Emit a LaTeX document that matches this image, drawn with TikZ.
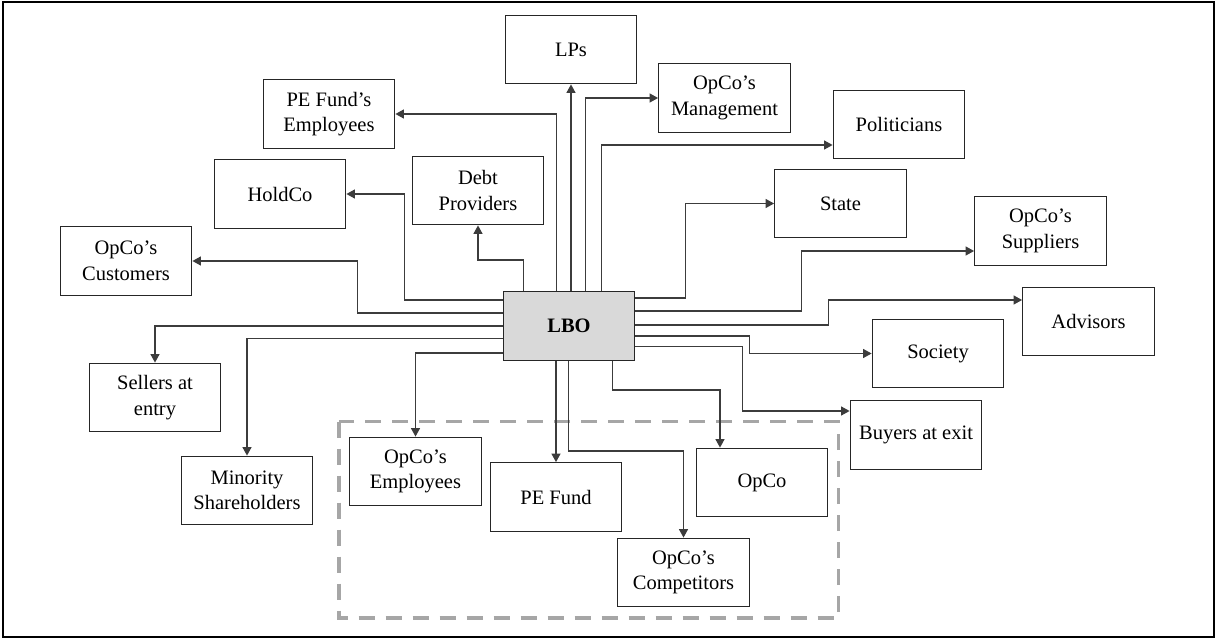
\documentclass[tikz,border=0pt]{standalone}
\usepackage{fontspec}
\setmainfont{Liberation Serif}
\usetikzlibrary{arrows.meta}
\definecolor{boxline}{HTML}{262626}
\definecolor{conn}{HTML}{3C3C3C}
\definecolor{lbofill}{HTML}{D9D9D9}
\definecolor{dashgray}{HTML}{A6A6A6}
\tikzset{
  sbox/.style={draw=boxline, line width=1.3pt, minimum width=131.5pt, minimum height=68.5pt,
    inner sep=0pt, align=center, font=\fontsize{20.5}{25.5}\selectfont, text=black},
  arr/.style={draw=conn, line width=1.3pt, -{Triangle[length=8.5pt,width=9pt]}},
}
\begin{document}
\begin{tikzpicture}[x=1pt,y=-1pt]
\useasboundingbox (0,0) rectangle (1216,639);
\draw[line width=2pt, black] (3,2) rectangle (1214,637);
\draw[dashgray, line width=3.5pt, dash pattern=on 16pt off 11pt] (339,421.5) rectangle (838.5,618);

\node[sbox, fill=lbofill, font=\fontsize{20.5}{25.5}\selectfont\bfseries] (lbo) at (569,326) {LBO};

\node[sbox] (lps) at (571,49.5) {LPs};
\node[sbox] (pefemp) at (329,114) {PE Fund’s\\Employees};
\node[sbox] (holdco) at (280,194) {HoldCo};
\node[sbox] (debt) at (478,190.5) {Debt\\Providers};
\node[sbox] (cust) at (126,261) {OpCo’s\\Customers};
\node[sbox] (mgmt) at (724.5,98) {OpCo’s\\Management};
\node[sbox] (pol) at (899,124.5) {Politicians};
\node[sbox] (state) at (840.5,203.5) {State};
\node[sbox] (supp) at (1040.5,231) {OpCo’s\\Suppliers};
\node[sbox] (adv) at (1088.5,321.5) {Advisors};
\node[sbox] (society) at (938,353.5) {Society};
\node[sbox] (buyers) at (916,435) {Buyers at exit};
\node[sbox] (sellers) at (155,397.5) {Sellers at\\entry};
\node[sbox] (minority) at (247,490.5) {Minority\\Shareholders};
\node[sbox] (opemp) at (415.5,471.5) {OpCo’s\\Employees};
\node[sbox] (pefund) at (556,497) {PE Fund};
\node[sbox] (opco) at (762,482.5) {OpCo};
\node[sbox] (comp) at (683.5,572.5) {OpCo’s\\Competitors};

% top side
\draw[arr] ([xshift=21pt]lbo.north west) -- ++(0,-31) -| (debt.south);
\draw[arr] ([xshift=54pt]lbo.north west) |- (pefemp.east);
\draw[arr] (lbo.north -| lps.south) -- (lps.south);
\draw[arr] ([xshift=83pt]lbo.north west) |- (mgmt.west);
\draw[arr] ([xshift=99pt]lbo.north west) |- ([yshift=-20.5pt]pol.west);
% left side
\draw[arr] ([yshift=-9pt]lbo.north west) -- ++(-98,0) |- (holdco.east);
\draw[arr] ([yshift=-22pt]lbo.north west) -- ++(-145,0) |- (cust.east);
\draw[arr] ([yshift=-35pt]lbo.north west) -| (sellers.north);
\draw[arr] ([yshift=-47.5pt]lbo.north west) -| (minority.north);
\draw[arr] ([yshift=-62pt]lbo.north west) -| (opemp.north);
% right side
\draw[arr] ([yshift=-7pt]lbo.north east) -- ++(50,0) |- (state.west);
\draw[arr] ([yshift=-20pt]lbo.north east) -- ++(166,0) |- ([yshift=-20pt]supp.west);
\draw[arr] ([yshift=-34pt]lbo.north east) -- ++(193,0) |- ([yshift=21.5pt]adv.west);
\draw[arr] ([yshift=-45pt]lbo.north east) -- ++(114,0) |- (society.west);
\draw[arr] ([yshift=-55.7pt]lbo.north east) -- ++(107,0) |- ([yshift=24pt]buyers.west);
% bottom side
\draw[arr] (lbo.south -| pefund.north) -- (pefund.north);
\draw[arr] ([xshift=66pt]lbo.south west) -- ++(0,90) -| (comp.north);
\draw[arr] ([xshift=110pt]lbo.south west) -- ++(0,29) -| ([xshift=-42pt]opco.north);
\end{tikzpicture}
\end{document}
